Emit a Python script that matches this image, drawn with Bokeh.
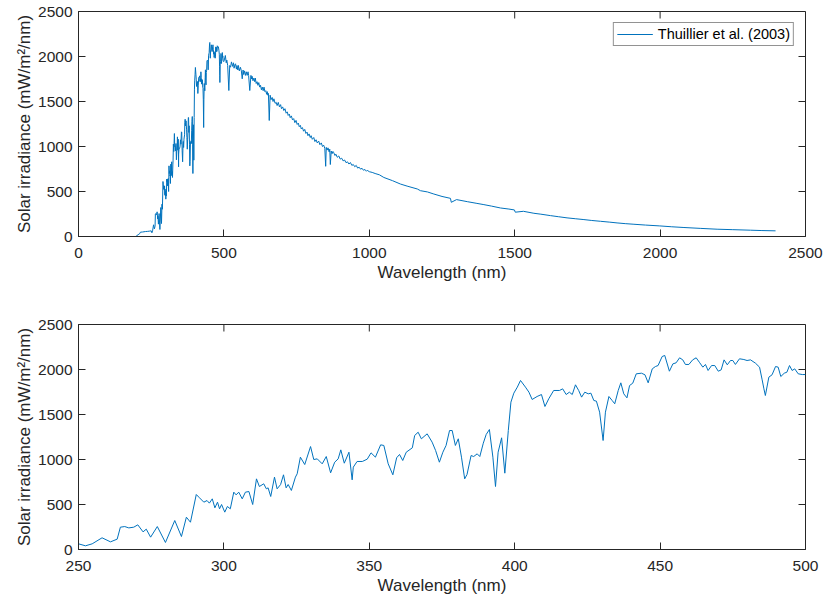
import math
from bokeh.plotting import figure
from bokeh.layouts import column
from bokeh.models import Range1d, FixedTicker, Legend, LegendItem
from bokeh.embed import file_html
from bokeh.resources import INLINE

# ---------------- data ----------------
# 196-245 nm
wl_uv_far = [196, 200, 205, 210, 213, 220, 230, 238, 245]
irr_uv_far = [0, 8, 20, 30, 48, 50, 55, 57, 60]

# 250-500 nm detailed (bottom panel)
wl_uv = [250.0, 252.4, 254.7, 258.1, 261.0, 263.3, 264.4, 265.9, 267.3, 269.0,
         270.4, 272.2, 273.3, 274.8, 277.1, 279.9, 283.1, 285.4, 287.1, 288.5,
         290.5, 291.4, 293.1, 294.2, 295.0, 296.0, 296.9, 297.8, 298.5, 299.2,
         300.3, 301.2, 302.2, 303.4, 304.2, 305.1, 306.3, 307.4, 308.6, 309.9,
         311.2, 312.2, 313.7, 314.6, 315.2, 316.1, 317.4, 318.3, 319.5, 320.5,
         321.4, 322.1, 323.2, 324.6, 325.2, 326.3, 327.8, 329.8, 330.9, 332.1,
         333.8, 335.2, 336.7, 338.1, 339.3, 340.2, 341.4, 343.0, 344.1, 344.5,
         345.8, 347.6, 349.3, 350.6, 352.1, 353.9, 355.0, 356.5, 358.1, 359.4,
         360.4, 361.5, 362.7, 364.8, 365.6, 366.8, 367.9, 369.9, 371.6, 372.8,
         374.1, 375.3, 376.4, 377.6, 378.5, 379.6, 380.6, 381.7, 382.8, 383.6,
         385.0, 385.9, 387.1, 388.0, 389.2, 390.2, 391.3, 392.5, 393.4, 394.3,
         395.5, 396.6, 397.8, 398.7, 399.7, 400.9, 402.0, 403.7, 404.9, 406.0,
         407.7, 409.2, 410.4, 411.7, 413.4, 415.4, 416.5, 417.7, 418.8, 419.8,
         420.9, 422.0, 423.0, 424.1, 425.3, 426.2, 427.2, 428.1, 429.2, 430.4,
         431.2, 432.4, 433.5, 434.4, 435.6, 436.5, 437.5, 438.6, 439.5, 440.6,
         441.8, 443.6, 444.8, 445.9, 447.3, 448.4, 449.3, 450.7, 451.6, 453.2,
         454.4, 455.5, 456.7, 457.8, 458.7, 459.9, 461.2, 462.4, 463.5, 464.7,
         465.6, 466.5, 467.7, 468.8, 470.0, 471.0, 472.0, 473.1, 474.2, 475.0,
         475.9, 477.3, 478.8, 479.9, 481.1, 482.8, 484.2, 485.1, 485.7, 486.2,
         487.4, 488.5, 489.7, 490.6, 491.5, 492.7, 493.6, 494.5, 495.4, 496.3,
         497.5, 498.9, 500.0]
irr_uv = [63, 41, 63, 130, 85, 115, 248, 255, 240, 248,
          274, 196, 226, 137, 255, 78, 322, 144, 359, 303,
          611, 581, 526, 544, 515, 563, 463, 526, 452, 500,
          415, 478, 452, 637, 607, 637, 563, 637, 644, 500,
          785, 700, 730, 674, 685, 589, 804, 674, 722, 830,
          685, 722, 656, 804, 841, 1026, 944, 1144, 1000, 1007,
          952, 1033, 852, 970, 1007, 1107, 959, 1081, 774, 915,
          978, 978, 1004, 1074, 1026, 1163, 1156, 952, 830, 1019,
          1056, 989, 1081, 1130, 1267, 1303, 1230, 1285, 1193, 1100,
          970, 1081, 1156, 1322, 1322, 1156, 1230, 1026, 785, 833,
          1044, 1033, 1063, 1033, 1181, 1278, 1333, 1026, 700, 1081,
          1241, 848, 1322, 1637, 1737, 1804, 1878, 1804, 1748, 1667,
          1700, 1722, 1589, 1674, 1767, 1767, 1785, 1722, 1748, 1722,
          1830, 1767, 1693, 1748, 1730, 1737, 1656, 1648, 1526, 1211,
          1526, 1700, 1656, 1619, 1767, 1852, 1730, 1685, 1822, 1848,
          1952, 1959, 1941, 1852, 2007, 2033, 2044, 2144, 2156, 1981,
          2063, 2074, 2130, 2107, 2056, 2056, 2107, 2130, 2081, 2026,
          2056, 1989, 2044, 2044, 1981, 1996, 2107, 2052, 2100, 2100,
          2056, 2119, 2111, 2100, 2107, 2070, 2026, 1885, 1785, 1711,
          1915, 1941, 2033, 2026, 1922, 1959, 1970, 2044, 1989, 2007,
          1952, 1944, 1944]

# 505-1000 nm (dense, shows the fine spectral structure)
wl_vis = [505, 508, 510, 513, 517, 520, 523, 526, 530, 533, 535, 538, 540, 543,
          545, 548, 550, 553, 557, 560, 563, 566, 568, 571, 574, 577, 580, 583,
          585, 589, 593, 595, 597, 600, 603, 606, 608, 611, 614, 617, 620, 623,
          626, 629, 632, 635, 638, 641, 644, 647, 649, 651, 653, 656, 659, 662,
          666, 669, 672, 676, 680, 683, 687, 691, 695, 698, 702, 706, 710, 714,
          718, 721, 725, 728, 732, 736, 740, 744, 748, 752, 756, 759, 763, 766,
          770, 774, 778, 782, 786, 789, 793, 797, 800, 804, 809, 813, 817, 821,
          826, 830, 835, 839, 843, 847, 850, 852, 855, 858, 862, 864, 866, 869,
          872, 875, 878, 882, 885, 890, 895, 900, 905, 910, 915, 920, 925, 930,
          935, 940, 945, 950, 955, 960, 965, 970, 975, 980, 985, 990, 993, 1000]
irr_vis = [2011, 1930, 1960, 1900, 1622, 1900, 1881, 1940, 1890, 1930, 1870,
           1910, 1919, 1860, 1900, 1850, 1900, 1840, 1880, 1840, 1752, 1850,
           1800, 1840, 1790, 1830, 1790, 1830, 1790, 1622, 1790, 1750, 1780,
           1730, 1760, 1720, 1760, 1700, 1720, 1680, 1710, 1660, 1680, 1630,
           1660, 1620, 1660, 1610, 1620, 1580, 1610, 1570, 1590, 1289, 1570,
           1520, 1545, 1500, 1530, 1480, 1490, 1455, 1490, 1440, 1465, 1420,
           1440, 1400, 1420, 1370, 1385, 1345, 1360, 1320, 1340, 1295, 1310,
           1265, 1290, 1245, 1260, 1220, 1235, 1195, 1210, 1170, 1190, 1145,
           1160, 1120, 1140, 1100, 1120, 1080, 1100, 1055, 1075, 1040, 1060,
           1020, 1040, 1000, 1015, 980, 780, 990, 960, 985, 940, 970, 800, 950,
           920, 945, 930, 900, 915, 880, 895, 860, 870, 840, 850, 820, 830, 805,
           822, 790, 800, 775, 790, 760, 770, 748, 758, 736, 745, 725, 735, 720]

# 1010-2400 nm
wl_ir = [1010, 1020, 1035, 1050, 1080, 1107, 1130, 1165, 1176, 1200, 1222,
         1250, 1279, 1282, 1300, 1337, 1370, 1394, 1420, 1451, 1480, 1499,
         1502, 1530, 1566, 1590, 1623, 1650, 1680, 1710, 1738, 1765, 1795,
         1825, 1852, 1880, 1910, 1950, 1997, 2040, 2082, 2140, 2196, 2250,
         2311, 2350, 2397]
irr_ir = [712, 700, 685, 656, 620, 583, 560, 528, 509, 495, 472, 445, 424,
          380, 410, 387, 368, 354, 338, 317, 305, 295, 270, 280, 258, 248,
          232, 220, 207, 197, 188, 178, 169, 160, 151, 143, 136, 127, 118,
          108, 100, 90, 81, 76, 70, 66, 63]

x_ticks_top = [0, 500, 1000, 1500, 2000, 2500]
x_ticks_bottom = [250, 300, 350, 400, 450, 500]
y_ticks = [0, 500, 1000, 1500, 2000, 2500]
x_lim_top = (0, 2500)
x_lim_bottom = (250, 500)
y_lim = (0, 2500)

wl_all = wl_uv_far + wl_uv + wl_vis + wl_ir
irr_all = irr_uv_far + irr_uv + irr_vis + irr_ir

# ---------------- styling ----------------
AX = "#262626"
LINE = "#0072BD"
FONT = "Liberation Sans"
TICK_FS = "15.5px"
LABEL_FS = "17px"
TICK_LEN = 7


def style_axis(ax):
    ax.axis_line_color = AX
    ax.axis_line_width = 1
    ax.major_tick_line_color = AX
    ax.major_tick_in = TICK_LEN
    ax.major_tick_out = 0
    ax.minor_tick_line_color = None
    ax.major_label_text_font = FONT
    ax.major_label_text_color = AX
    ax.major_label_text_font_size = TICK_FS
    ax.axis_label_text_font = FONT
    ax.axis_label_text_color = AX
    ax.axis_label_text_font_style = "normal"
    ax.axis_label_text_font_size = LABEL_FS


def make_fig(xr, xt, height, top, bottom):
    p = figure(width=823, height=height, output_backend="svg",
               toolbar_location=None, x_range=Range1d(*xr),
               y_range=Range1d(*y_lim),
               min_border_left=78, min_border_right=18,
               min_border_top=top, min_border_bottom=bottom)
    p.xgrid.visible = False
    p.ygrid.visible = False
    p.outline_line_color = AX
    p.outline_line_width = 1
    p.background_fill_color = "white"
    p.border_fill_color = "white"
    p.xaxis.ticker = FixedTicker(ticks=xt)
    p.yaxis.ticker = FixedTicker(ticks=y_ticks)
    for ax in p.xaxis:
        style_axis(ax)
        ax.major_label_standoff = 11
        ax.axis_label_standoff = 2
    for ax in p.yaxis:
        style_axis(ax)
        ax.major_label_standoff = 6
        ax.axis_label_standoff = 1
    p.xaxis.axis_label = "Wavelength (nm)"
    p.yaxis.axis_label = "Solar irradiance (mW/m²/nm)"
    # inward tick marks on the top and right edges of the box
    p.ray(x=xt, y=[y_lim[1]] * len(xt), length=TICK_LEN, length_units="screen",
          angle=-math.pi / 2, line_color=AX, line_width=1)
    p.ray(x=[xr[1]] * len(y_ticks), y=y_ticks, length=TICK_LEN,
          length_units="screen", angle=math.pi, line_color=AX, line_width=1)
    return p


p1 = make_fig(x_lim_top, x_ticks_top, 301, 11, 65)
r1 = p1.line(wl_all, irr_all, line_color=LINE, line_width=1)
legend = Legend(items=[LegendItem(label="Thuillier et al. (2003)", renderers=[r1])],
                location="top_right")
legend.border_line_color = AX
legend.border_line_width = 1
legend.background_fill_color = "white"
legend.background_fill_alpha = 1
legend.margin = 11
legend.padding = 3
legend.spacing = 0
legend.label_standoff = 5
legend.glyph_width = 36
legend.glyph_height = 14
legend.label_height = 14
legend.label_text_font = FONT
legend.label_text_font_size = "14.5px"
legend.label_text_color = "black"
p1.add_layout(legend)

p2 = make_fig(x_lim_bottom, x_ticks_bottom, 300, 23, 52)
p2.line(wl_uv, irr_uv, line_color=LINE, line_width=1)

layout = column(p1, p2, spacing=0)
open("out.html", "w").write(file_html(layout, INLINE))
